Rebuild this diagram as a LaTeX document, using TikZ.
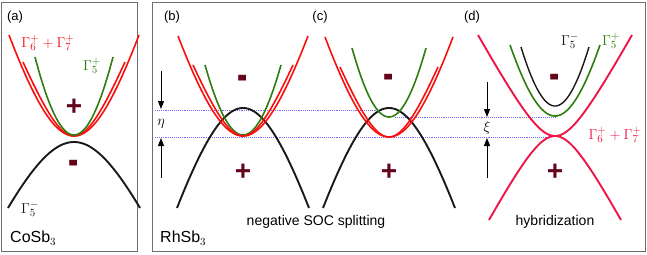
\documentclass[tikz,border=0pt]{standalone}
\usepackage{fontspec}
\usepackage{graphicx}
\setmainfont{Liberation Sans}
\usetikzlibrary{arrows.meta}
\definecolor{bandred}{RGB}{250,15,15}
\definecolor{bandgreen}{RGB}{45,125,15}
\definecolor{crimson}{RGB}{238,22,70}
\definecolor{maroon}{RGB}{100,5,25}
\definecolor{dotblue}{RGB}{110,110,250}
\definecolor{framegray}{RGB}{110,110,110}
\definecolor{bandblack}{RGB}{25,25,25}
% #1 style, #2 centre x, #3 extremum y, #4 half width, #5 end y, #6 curvature scale
\newcommand\bandcurve[6]{\draw[#1] plot[domain=-#4:#4,samples=61,smooth] ({#2+\x},{#3+(#5-#3)*(sqrt(1+(\x/#6)^2)-1)/(sqrt(1+(#4/#6)^2)-1)});}
\newcommand\bigminus{\scalebox{1.1}[1.7]{-}}
\tikzset{
  redband/.style={draw=bandred, line width=1.6pt},
  greenband/.style={draw=bandgreen, line width=1.6pt},
  blackband/.style={draw=bandblack, line width=1.9pt},
  crimsonband/.style={draw=crimson, line width=1.9pt},
  thinblack/.style={draw=bandblack, line width=1.4pt},
  panel/.style={draw=framegray, line width=0.9pt},
  level/.style={draw=dotblue, densely dotted, line width=0.9pt},
  gaparrow/.style={draw=black, line width=1pt, -{Triangle[length=8pt,width=6pt]}},
  plussign/.style={text=maroon, font=\fontsize{28}{28}\selectfont\bfseries, inner sep=0pt},
  lbl/.style={font=\fontsize{14}{16}\selectfont, inner sep=0pt},
  tag/.style={font=\fontsize{13}{15}\selectfont, inner sep=0pt},
  compound/.style={font=\fontsize{16}{18}\selectfont, inner sep=0pt, anchor=west},
  gam/.style={font=\fontsize{15}{18}\selectfont, inner sep=0pt},
}
\begin{document}
\begin{tikzpicture}[x=1pt,y=-1pt]
\useasboundingbox (0,0) rectangle (647,254);
% frames
\draw[panel] (1,2) rectangle (137,251);
\draw[panel] (152,2) rectangle (645,251);

% level lines
\draw[level] (155,110) -- (378,110);
\draw[level] (395,117) -- (555,117);
\draw[level] (155,137) -- (550,137);

% ---- panel (a)
\bandcurve{blackband}{74}{142}{66}{208}{60}
\bandcurve{redband}{74}{136}{65}{35}{60}
\bandcurve{redband}{74}{136}{51}{62}{30}
\bandcurve{greenband}{74}{135}{39}{57}{80}

% ---- panel (b)
\bandcurve{blackband}{243}{108}{66}{208}{60}
\bandcurve{greenband}{243}{135}{38}{65}{80}
\bandcurve{redband}{243}{136}{65}{36}{60}
\bandcurve{redband}{243}{136}{50}{65}{30}

% ---- panel (c)
\bandcurve{blackband}{389}{108}{66}{208}{60}
\bandcurve{greenband}{389}{117}{37}{48}{80}
\bandcurve{redband}{389}{137}{64}{37}{60}
\bandcurve{redband}{389}{137}{49}{67}{30}

% ---- panel (d)
\bandcurve{thinblack}{555}{106}{34}{47}{60}
\bandcurve{greenband}{555}{116}{45}{45}{60}
\bandcurve{crimsonband}{555}{136}{77}{35}{26.7}
\bandcurve{crimsonband}{555}{136}{66}{220}{26.7}

% gap arrows
\coordinate (etaTop) at (161,71);
\coordinate (etaTopTip) at (161,109);
\coordinate (etaBot) at (161,178);
\coordinate (etaBotTip) at (161,138);
\draw[gaparrow] (etaTop) -- (etaTopTip);
\draw[gaparrow] (etaBot) -- (etaBotTip);
\node[gam] (eta) at (161,124) {$\eta$};
\coordinate (xiTop) at (487,82);
\coordinate (xiTopTip) at (487,117);
\coordinate (xiBot) at (487,178);
\coordinate (xiBotTip) at (487,138);
\draw[gaparrow] (xiTop) -- (xiTopTip);
\draw[gaparrow] (xiBot) -- (xiBotTip);
\node[gam] (xi) at (487,128) {$\xi$};

% parity signs
\node[plussign] (pa) at (74,107) {+};
\node[plussign] (ma) at (74,168) {\bigminus};
\node[plussign] (mb) at (243,83) {\bigminus};
\node[plussign] (pb) at (243,172) {+};
\node[plussign] (mc) at (389,82) {\bigminus};
\node[plussign] (pc) at (389,172) {+};
\node[plussign] (md) at (555,82) {\bigminus};
\node[plussign] (pd) at (555,172) {+};

% band labels
\node[gam, text=bandred] (g67a) at (48,43) {$\Gamma_6^+ + \Gamma_7^+$};
\node[gam, text=bandgreen] (g5pa) at (92,66) {$\Gamma_5^+$};
\node[gam, text=bandblack] (g5ma) at (30,209) {$\Gamma_5^-$};
\node[gam, text=bandblack] (g5md) at (570,41) {$\Gamma_5^-$};
\node[gam, text=bandgreen] (g5pd) at (611,41) {$\Gamma_5^+$};
\node[gam, text=crimson] (g67d) at (615,135) {$\Gamma_6^+ + \Gamma_7^+$};

% panel tags
\node[tag] (ta) at (15,17) {(a)};
\node[tag] (tb) at (172,17) {(b)};
\node[tag] (tc) at (320,17) {(c)};
\node[tag] (td) at (472,17) {(d)};

% compounds and captions
\node[compound] (co) at (10,238) {CoSb$_3$};
\node[compound] (rh) at (160,238) {RhSb$_3$};
\node[lbl] (soc) at (316,222) {negative SOC splitting};
\node[lbl] (hyb) at (555,222) {hybridization};
\end{tikzpicture}
\end{document}
